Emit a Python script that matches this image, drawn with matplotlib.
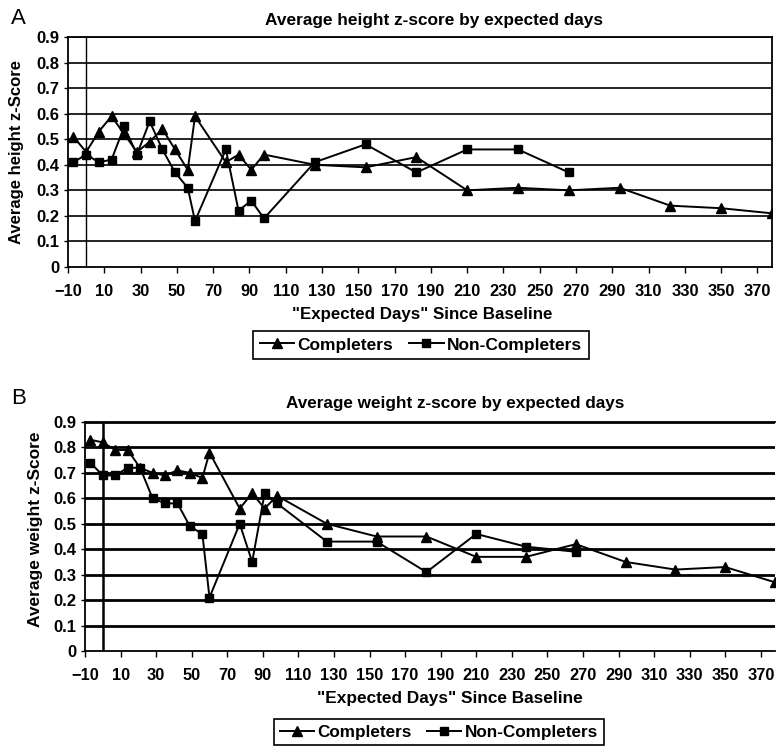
import matplotlib
matplotlib.use("Agg")
import matplotlib.pyplot as plt
from matplotlib.lines import Line2D

# ---- data ----
days_comp = [-7, 0, 7, 14, 21, 28, 35, 42, 49, 56, 60, 77, 84, 91, 98, 126, 154,
             182, 210, 238, 266, 294, 322, 350, 378]
days_non = [-7, 0, 7, 14, 21, 28, 35, 42, 49, 56, 60, 77, 84, 91, 98, 126, 154,
            182, 210, 238, 266]

height_comp = [0.51, 0.45, 0.53, 0.59, 0.52, 0.45, 0.49, 0.54, 0.46, 0.38, 0.59,
               0.41, 0.44, 0.38, 0.44, 0.40, 0.39, 0.43, 0.30, 0.31, 0.30, 0.31,
               0.24, 0.23, 0.21]
height_non = [0.41, 0.44, 0.41, 0.42, 0.55, 0.44, 0.57, 0.46, 0.37, 0.31, 0.18,
              0.46, 0.22, 0.26, 0.19, 0.41, 0.48, 0.37, 0.46, 0.46, 0.37]

weight_comp = [0.83, 0.82, 0.79, 0.79, 0.72, 0.70, 0.69, 0.71, 0.70, 0.68, 0.78,
               0.56, 0.62, 0.56, 0.61, 0.50, 0.45, 0.45, 0.37, 0.37, 0.42, 0.35,
               0.32, 0.33, 0.27]
weight_non = [0.74, 0.69, 0.69, 0.72, 0.72, 0.60, 0.58, 0.58, 0.49, 0.46, 0.21,
              0.50, 0.35, 0.62, 0.58, 0.43, 0.43, 0.31, 0.46, 0.41, 0.39]

xticks = list(range(-10, 371, 20))
yticks = [0, 0.1, 0.2, 0.3, 0.4, 0.5, 0.6, 0.7, 0.8, 0.9]
ytick_labels = ["0", "0.1", "0.2", "0.3", "0.4", "0.5", "0.6", "0.7", "0.8", "0.9"]
series_names = ["Completers", "Non-Completers"]

plt.rcParams['font.family'] = ['Liberation Sans', 'DejaVu Sans']
plt.rcParams['font.weight'] = 'bold'

W, H = 776, 747
fig = plt.figure(figsize=(W / 100, H / 100), dpi=100)


def px(x, y):
    return x / W, 1 - y / H


def make_panel(rect, yc, yn, grid_lw, vline_lw):
    ax = fig.add_axes(rect)
    ax.set_xlim(-10, 378)
    ax.set_ylim(0, 0.9)
    for v in yticks[1:]:
        ax.axhline(v, color='black', lw=grid_lw, zorder=1)
    ax.axvline(0, color='black', lw=vline_lw, zorder=1)
    ax.plot(days_comp, yc, color='black', lw=1.4, marker='^', ms=6.5,
            mfc='black', mec='black', zorder=3)
    ax.plot(days_non, yn, color='black', lw=1.4, marker='s', ms=6,
            mfc='black', mec='black', zorder=3)
    ax.set_xticks(xticks)
    ax.set_xticklabels([("\u2212" + str(-t)) if t < 0 else str(t) for t in xticks],
                       fontsize=11.8, fontweight='bold')
    ax.set_yticks(yticks)
    ax.set_yticklabels(ytick_labels, fontsize=12, fontweight='bold')
    ax.tick_params(axis='x', direction='out', length=4, width=1, pad=8)
    ax.tick_params(axis='y', direction='out', length=3, width=1, pad=3)
    for s in ax.spines.values():
        s.set_linewidth(1.3)
        s.set_color('black')
    return ax


# Panel A
l, b = px(68, 267)
r, t = px(772, 37)
axA = make_panel([l, b, r - l, t - b], height_comp, height_non, 1.2, 1.0)
# Panel B
l, b = px(85, 651)
r, t = px(775, 422)
axB = make_panel([l, b, r - l, t - b], weight_comp, weight_non, 2.0, 1.8)
axB.spines['right'].set_visible(False)

# Texts
fig.text(*px(11, 18), "A", fontsize=16, fontweight='normal', ha='left', va='center')
fig.text(*px(11, 399), "B", fontsize=16, fontweight='normal', ha='left', va='center')
fig.text(*px(434, 20), "Average height z-score by expected days", fontsize=12.4,
         fontweight='bold', ha='center', va='center')
fig.text(*px(455, 403), "Average weight z-score by expected days", fontsize=12.3,
         fontweight='bold', ha='center', va='center')
fig.text(*px(17, 152), "Average height z-Score", fontsize=12, fontweight='bold',
         rotation=90, ha='center', va='center')
fig.text(*px(36, 529), "Average weight z-Score", fontsize=12.5, fontweight='bold',
         rotation=90, ha='center', va='center')
fig.text(*px(422, 314), '"Expected Days" Since Baseline', fontsize=12.2,
         fontweight='bold', ha='center', va='center')
fig.text(*px(450, 699), '"Expected Days" Since Baseline', fontsize=12.4,
         fontweight='bold', ha='center', va='center')

handles = [Line2D([], [], color='black', lw=1.4, marker='^', ms=6.5),
           Line2D([], [], color='black', lw=1.4, marker='s', ms=6)]
for (cx, cy), fs in (((421, 345), 12.5), ((439, 732), 12.3)):
    leg = fig.legend(handles, series_names, loc='center',
                     bbox_to_anchor=px(cx, cy), ncol=2, frameon=True,
                     fancybox=False, edgecolor='black', framealpha=1,
                     prop={'weight': 'bold', 'size': fs}, handlelength=2.0,
                     handletextpad=0.2, columnspacing=0.9, borderpad=0.35)
    leg.get_frame().set_linewidth(1.2)

fig.savefig("out.png", dpi=100)
